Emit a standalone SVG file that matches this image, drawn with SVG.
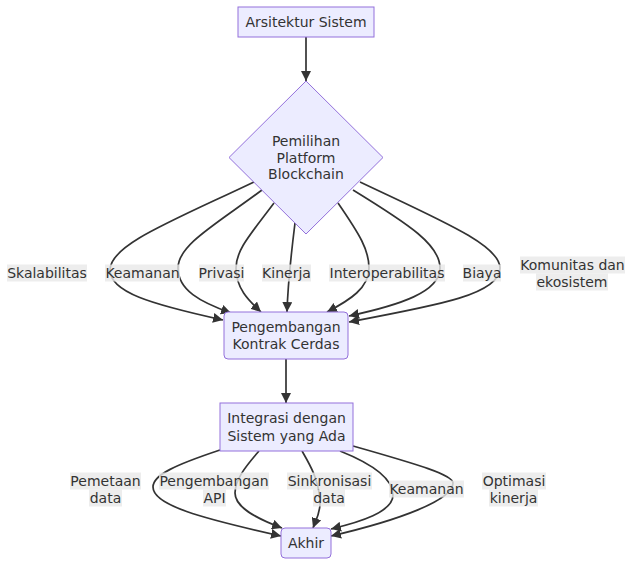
<svg xmlns="http://www.w3.org/2000/svg" width="640" height="572" viewBox="0 0 640 572">
<style>
  .node rect, .node polygon { fill: #ECECFF; stroke: #9370DB; stroke-width: 1; }
  text { font-family: "DejaVu Sans", Verdana, sans-serif; font-size: 14px; fill: #333333; text-anchor: middle; }
  .edge { fill: none; stroke: #333333; stroke-width: 1.7; marker-end: url(#arrow); }
  .lbg { fill: #e8e8e8; fill-opacity: 0.8; }
</style>
<defs>
  <marker id="arrow" viewBox="0 0 10 10" refX="10" refY="5" markerUnits="userSpaceOnUse" markerWidth="10" markerHeight="10" orient="auto">
    <path d="M0,0 L10,5 L0,10 z" fill="#333333"/>
  </marker>
</defs>
<rect width="640" height="572" fill="#ffffff"/>

<g id="connectors">
  <path class="edge" d="M306,37 L306,81"/>
  <path class="edge" d="M254,182 C170,222 110,245 110,270 C110,292 150,304 223,320"/>
  <path class="edge" d="M262,190 C215,225 178,245 178,268 C178,290 200,302 231,313"/>
  <path class="edge" d="M274,203 C250,235 236,250 236,268 C236,288 248,300 261,312"/>
  <path class="edge" d="M295,223 C291,255 288,280 287,312"/>
  <path class="edge" d="M338,203 C360,235 369,250 369,268 C369,288 350,300 327,312"/>
  <path class="edge" d="M353,190 C410,225 440,245 440,268 C440,292 400,305 349,316"/>
  <path class="edge" d="M360,182 C440,220 500,245 500,268 C500,294 440,305 349,322"/>
  <path class="edge" d="M286,359 L286,403"/>
  <path class="edge" d="M220,450 C175,465 153,475 153,487 C153,505 200,518 281,536"/>
  <path class="edge" d="M259,451 C245,467 235,480 235,493 C235,507 255,518 282,528"/>
  <path class="edge" d="M302,451 C310,465 318,478 320,500 C321,512 316,520 313,528"/>
  <path class="edge" d="M340,451 C375,465 393,480 393,495 C393,512 360,522 331,529"/>
  <path class="edge" d="M353,446 C420,465 453,475 453,483 C453,500 400,520 331,536"/>
</g>

<g id="edge-labels">
  <rect class="lbg" x="7" y="264.5" width="80" height="17"/><text x="47" y="278">Skalabilitas</text>
  <rect class="lbg" x="105" y="264.5" width="75" height="17"/><text x="142.5" y="278">Keamanan</text>
  <rect class="lbg" x="199" y="264.5" width="45" height="17"/><text x="221.5" y="278">Privasi</text>
  <rect class="lbg" x="262" y="264.5" width="49" height="17"/><text x="286.5" y="278">Kinerja</text>
  <rect class="lbg" x="329" y="264.5" width="116" height="17"/><text x="387" y="278">Interoperabilitas</text>
  <rect class="lbg" x="463" y="264.5" width="38" height="17"/><text x="482" y="278">Biaya</text>
  <rect class="lbg" x="520" y="256.5" width="105" height="17"/><text x="572.5" y="270">Komunitas dan</text>
  <rect class="lbg" x="536" y="273.5" width="72" height="17"/><text x="572" y="287">ekosistem</text>

  <rect class="lbg" x="70" y="472.5" width="71" height="17"/><text x="105.5" y="486">Pemetaan</text>
  <rect class="lbg" x="89" y="489.5" width="33" height="17"/><text x="105.5" y="503">data</text>
  <rect class="lbg" x="159" y="472.5" width="110" height="17"/><text x="214" y="486">Pengembangan</text>
  <rect class="lbg" x="203" y="489.5" width="23" height="17"/><text x="214.5" y="503">API</text>
  <rect class="lbg" x="287" y="472.5" width="85" height="17"/><text x="329.5" y="486">Sinkronisasi</text>
  <rect class="lbg" x="313" y="489.5" width="32" height="17"/><text x="329" y="503">data</text>
  <rect class="lbg" x="389" y="480.5" width="75" height="17"/><text x="426.5" y="494">Keamanan</text>
  <rect class="lbg" x="482" y="472.5" width="64" height="17"/><text x="514" y="486">Optimasi</text>
  <rect class="lbg" x="489" y="489.5" width="49" height="17"/><text x="513.5" y="503">kinerja</text>
</g>

<g id="node-arsitektur" class="node">
  <rect x="238" y="7" width="136" height="30"/>
  <text x="306" y="27">Arsitektur Sistem</text>
</g>
<g id="node-pemilihan" class="node">
  <polygon points="306,81 383,157.5 306,234 229,157.5"/>
  <text x="306" y="146">Pemilihan</text>
  <text x="306" y="162.5">Platform</text>
  <text x="306" y="179">Blockchain</text>
</g>
<g id="node-kontrak" class="node">
  <rect x="224" y="312" width="124" height="47" rx="4" ry="4"/>
  <text x="286" y="332">Pengembangan</text>
  <text x="286" y="349">Kontrak Cerdas</text>
</g>
<g id="node-integrasi" class="node">
  <rect x="220" y="403" width="133" height="48"/>
  <text x="286.5" y="423">Integrasi dengan</text>
  <text x="286.5" y="441">Sistem yang Ada</text>
</g>
<g id="node-akhir" class="node">
  <rect x="281" y="528" width="50" height="30" rx="4" ry="4"/>
  <text x="306" y="548">Akhir</text>
</g>
</svg>
